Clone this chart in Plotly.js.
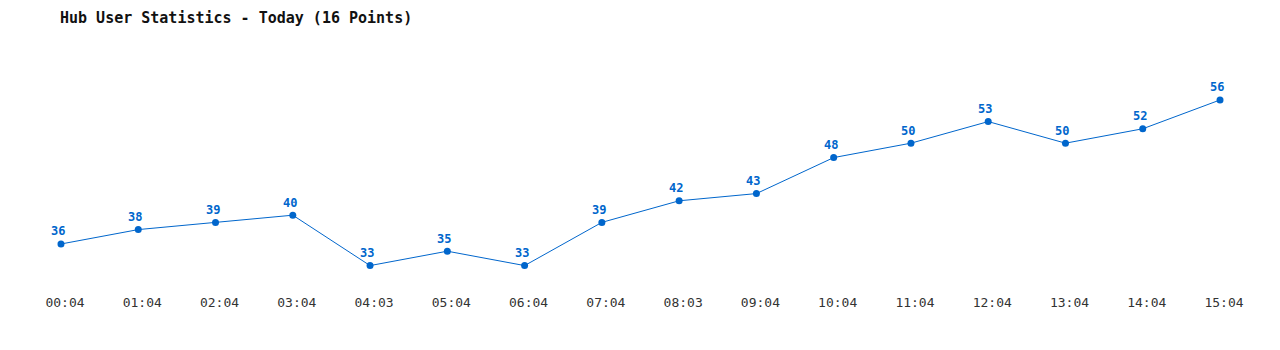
<!DOCTYPE html>
<html><head><meta charset="utf-8">
<script src="https://cdn.plot.ly/plotly-3.0.1.min.js"></script>
<style>html,body{margin:0;padding:0;background:#fff}#c{width:1280px;height:350px}</style>
</head><body><div id="c"></div>
<script>
const times = ["00:04","01:04","02:04","03:04","04:03","05:04","06:04","07:04","08:03","09:04","10:04","11:04","12:04","13:04","14:04","15:04"];
const users = [36,38,39,40,33,35,33,39,42,43,48,50,53,50,52,56];
const blue = "#0066cc";
const mono = "'DejaVu Sans Mono', 'Liberation Mono', monospace";
const labels = times.map((t, i) => ({
  x: t, y: users[i], xref: "x", yref: "y", text: String(users[i]), showarrow: false,
  xshift: -3, yshift: 12.5, font: {family: mono, size: 12, color: blue, weight: "bold"}
}));
Plotly.newPlot("c", [{
  x: times, y: users, type: "scatter", mode: "lines+markers",
  line: {color: blue, width: 1}, marker: {color: blue, size: 7},
  cliponaxis: false, hoverinfo: "skip"
}], {
  width: 1280, height: 350,
  margin: {l: 30, r: 30, t: 40, b: 60},
  paper_bgcolor: "#fff", plot_bgcolor: "#fff",
  showlegend: false,
  annotations: labels,
  title: {text: "Hub User Statistics - Today (16 Points)", xref: "container", yref: "container",
    x: 60/1280, xanchor: "left", y: 1 - 18/350, yanchor: "middle",
    font: {family: mono, size: 15, color: "#111", weight: "bold"}},
  xaxis: {type: "category", range: [-0.401, 15.388], showgrid: false, zeroline: false, showline: false,
    ticks: "", ticklabelshift: 4, ticklabelstandoff: 3,
    tickfont: {family: mono, size: 13, color: "#333"}, fixedrange: true},
  yaxis: {range: [29.61, 64.33], visible: false, fixedrange: true}
}, {staticPlot: true});
</script></body></html>
